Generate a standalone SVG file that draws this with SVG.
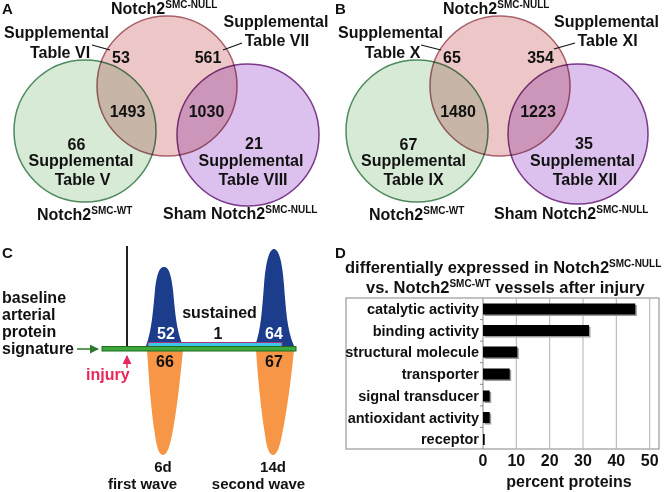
<svg xmlns="http://www.w3.org/2000/svg" width="666" height="492" viewBox="0 0 666 492">
<defs>
<style>
text{font-family:"Liberation Sans",Arial,sans-serif;font-weight:bold;fill:#111;}
.t{font-size:16px;}
.m{text-anchor:middle;}
.sup{font-size:10px;}
.lab{font-size:15px;}
.wave{font-size:15px;text-anchor:middle;}
.cat{font-size:14.5px;text-anchor:end;}
.pink{fill:#edc7c7;stroke:#a8606a;stroke-width:1.5;mix-blend-mode:multiply;}
.green{fill:#d6ead6;stroke:#4f8a5e;stroke-width:1.5;mix-blend-mode:multiply;}
.purple{fill:#dcc0ee;stroke:#7a3a88;stroke-width:1.5;mix-blend-mode:multiply;}
.lead{stroke:#111;stroke-width:1.2;fill:none;}
.grid{stroke:#b0b0b0;stroke-width:1;}
.bar{fill:#000;}
.shadow{fill:#9a9a9a;}
</style>
<marker id="ag" viewBox="0 0 10 10" refX="9" refY="5" markerWidth="6" markerHeight="6" orient="auto"><path d="M0,0 L10,5 L0,10 z" fill="#2a7a2a"/></marker>
<marker id="ar" viewBox="0 0 10 10" refX="9" refY="5" markerWidth="6" markerHeight="6" orient="auto"><path d="M0,0 L10,5 L0,10 z" fill="#e8285a"/></marker>
</defs>
<rect width="666" height="492" fill="#fff"/>

<!-- Panel A -->
<g id="panelA">
<text class="lab" x="2" y="14">A</text>
<g id="A-circles" style="isolation:isolate">
<circle id="A-green" class="green" cx="85" cy="131" r="71"/>
<circle id="A-pink" class="pink" cx="167" cy="86" r="70"/>
<circle id="A-purple" class="purple" cx="248" cy="135" r="71"/>
</g>
<g id="A-connectors">
<line class="lead" x1="92" y1="45" x2="110" y2="50"/>
<line class="lead" x1="223" y1="50" x2="242" y2="43"/>
</g>
<g id="A-labels">
<text class="t" x="111" y="14">Notch2<tspan class="sup" dy="-6">SMC-NULL</tspan></text>
<text class="t m" x="56.5" y="38">Supplemental</text>
<text class="t m" x="60" y="58">Table VI</text>
<text class="t m" x="121" y="63">53</text>
<text class="t m" x="208" y="63">561</text>
<text class="t m" x="276" y="27">Supplemental</text>
<text class="t m" x="277" y="46">Table VII</text>
<text class="t m" x="127.5" y="117">1493</text>
<text class="t m" x="206.5" y="117">1030</text>
<text class="t m" x="76.5" y="150">66</text>
<text class="t m" x="81" y="166">Supplemental</text>
<text class="t m" x="82.5" y="185">Table V</text>
<text class="t m" x="254" y="149">21</text>
<text class="t m" x="251" y="166">Supplemental</text>
<text class="t m" x="253" y="185">Table VIII</text>
<text class="t" x="37" y="220">Notch2<tspan class="sup" dy="-6">SMC-WT</tspan></text>
<text class="t" x="163" y="219">Sham Notch2<tspan class="sup" dy="-6">SMC-NULL</tspan></text>
</g>
</g>

<!-- Panel B -->
<g id="panelB">
<text class="lab" x="335" y="14">B</text>
<g id="B-circles" style="isolation:isolate">
<circle id="B-green" class="green" cx="417" cy="131" r="71"/>
<circle id="B-pink" class="pink" cx="500" cy="86" r="70"/>
<circle id="B-purple" class="purple" cx="578" cy="134" r="70"/>
</g>
<g id="B-connectors">
<line class="lead" x1="421" y1="45" x2="441" y2="50"/>
<line class="lead" x1="554" y1="49" x2="575" y2="43"/>
</g>
<g id="B-labels">
<text class="t" x="443" y="14">Notch2<tspan class="sup" dy="-6">SMC-NULL</tspan></text>
<text class="t m" x="390.5" y="38">Supplemental</text>
<text class="t m" x="392.5" y="58">Table X</text>
<text class="t m" x="452" y="63">65</text>
<text class="t m" x="540.5" y="63">354</text>
<text class="t m" x="606.5" y="27">Supplemental</text>
<text class="t m" x="607.5" y="46">Table XI</text>
<text class="t m" x="458" y="117">1480</text>
<text class="t m" x="538" y="117">1223</text>
<text class="t m" x="408.5" y="150">67</text>
<text class="t m" x="413.5" y="166">Supplemental</text>
<text class="t m" x="413.5" y="185">Table IX</text>
<text class="t m" x="584" y="149">35</text>
<text class="t m" x="582.5" y="166">Supplemental</text>
<text class="t m" x="585" y="185">Table XII</text>
<text class="t" x="369" y="220">Notch2<tspan class="sup" dy="-6">SMC-WT</tspan></text>
<text class="t" x="494" y="219">Sham Notch2<tspan class="sup" dy="-6">SMC-NULL</tspan></text>
</g>
</g>

<!-- Panel C -->
<g id="panelC">
<text class="lab" x="2" y="258">C</text>
<line x1="127" y1="246" x2="127" y2="349" stroke="#222" stroke-width="2"/>
<path id="peak1-up" d="M146,346 C152,330 153,310 155,290 C157,272 160,267 164,267 C168,267 171,272 173,290 C175,310 176,330 183,346 Z" fill="#1c3c8c"/>
<path id="peak2-up" d="M255,346 C261,330 262,310 264,285 C266,258 270,249 274,249 C278,249 282,258 284,285 C286,310 287,330 294,346 Z" fill="#1c3c8c"/>
<path id="peak1-down" d="M147,350 L183,350 C180,380 177,410 172,435 C169,450 166,455 163,455 C160,455 157,450 155,435 C151,410 149,380 147,350 Z" fill="#f79646"/>
<path id="peak2-down" d="M256,350 L294,350 C291,380 287,410 282,435 C279,450 276,455 273,455 C270,455 267,450 265,435 C261,410 258,380 256,350 Z" fill="#f79646"/>
<rect id="sustained-bar" x="148" y="342.5" width="134" height="4" fill="#3ec6e8" stroke="#b0307a" stroke-width="1"/>
<rect id="baseline-bar" x="102" y="346.5" width="194" height="4.5" fill="#3ca83c" stroke="#1f6b20" stroke-width="1"/>
<g id="C-connectors">
<line x1="77" y1="349" x2="98" y2="349" stroke="#2a7a2a" stroke-width="1.5" marker-end="url(#ag)"/>
<line x1="127" y1="368" x2="127" y2="356" stroke="#e8285a" stroke-width="1.5" marker-end="url(#ar)"/>
</g>
<g id="C-labels">
<text class="t" x="2" y="303">baseline</text>
<text class="t" x="2" y="320">arterial</text>
<text class="t" x="2" y="337">protein</text>
<text class="t" x="2" y="354">signature</text>
<text class="t" x="86" y="380" style="fill:#e8285a">injury</text>
<text class="t m" x="166" y="339" style="fill:#fff">52</text>
<text class="t m" x="274" y="339" style="fill:#fff">64</text>
<text class="t m" x="219.5" y="318">sustained</text>
<text class="t m" x="218" y="339">1</text>
<text class="t m" x="165" y="367">66</text>
<text class="t m" x="274" y="367">67</text>
<text class="wave" x="163" y="472">6d</text>
<text class="wave" x="142.5" y="489">first wave</text>
<text class="wave" x="273" y="472">14d</text>
<text class="wave" x="258.5" y="489">second wave</text>
</g>
</g>

<!-- Panel D -->
<g id="panelD">
<text class="lab" x="335" y="258">D</text>
<text x="345" y="273" style="font-size:16.5px">differentially expressed in Notch2<tspan class="sup" dy="-6">SMC-NULL</tspan></text>
<text x="366" y="293" style="font-size:16.5px">vs. Notch2<tspan class="sup" dy="-6">SMC-WT</tspan><tspan dy="6"> vessels after injury</tspan></text>
<rect x="346" y="298" width="313" height="151" fill="none" stroke="#999" stroke-width="1.2"/>
<g id="D-grid">
<line class="grid" x1="516.3" y1="298" x2="516.3" y2="449"/>
<line class="grid" x1="549.7" y1="298" x2="549.7" y2="449"/>
<line class="grid" x1="583" y1="298" x2="583" y2="449"/>
<line class="grid" x1="616.3" y1="298" x2="616.3" y2="449"/>
<line class="grid" x1="649.7" y1="298" x2="649.7" y2="449"/>
</g>
<g id="D-axis" stroke="#888" stroke-width="1">
<line x1="483" y1="298" x2="483" y2="449"/>
<line x1="480" y1="319.6" x2="483" y2="319.6"/>
<line x1="480" y1="341.1" x2="483" y2="341.1"/>
<line x1="480" y1="362.7" x2="483" y2="362.7"/>
<line x1="480" y1="384.3" x2="483" y2="384.3"/>
<line x1="480" y1="405.9" x2="483" y2="405.9"/>
<line x1="480" y1="427.4" x2="483" y2="427.4"/>
</g>
<g id="D-bars">
<rect class="shadow" x="484.5" y="305" width="152.3" height="11"/>
<rect class="bar" x="483" y="303.5" width="152.3" height="11"/>
<rect class="shadow" x="484.5" y="326.5" width="106" height="11"/>
<rect class="bar" x="483" y="325" width="106" height="11"/>
<rect class="shadow" x="484.5" y="348" width="34.3" height="11"/>
<rect class="bar" x="483" y="346.5" width="34.3" height="11"/>
<rect class="shadow" x="484.5" y="370" width="26.7" height="11"/>
<rect class="bar" x="483" y="368.5" width="26.7" height="11"/>
<rect class="shadow" x="484.5" y="392" width="6.7" height="11"/>
<rect class="bar" x="483" y="390.5" width="6.7" height="11"/>
<rect class="shadow" x="484.5" y="413.5" width="6.7" height="11"/>
<rect class="bar" x="483" y="412" width="6.7" height="11"/>
<rect class="bar" x="483" y="434" width="1.7" height="11"/>
</g>
<g id="D-labels">
<text class="cat" x="479" y="314">catalytic activity</text>
<text class="cat" x="479" y="336">binding activity</text>
<text class="cat" x="479" y="357">structural molecule</text>
<text class="cat" x="479" y="379">transporter</text>
<text class="cat" x="479" y="401">signal transducer</text>
<text class="cat" x="479" y="423">antioxidant activity</text>
<text class="cat" x="479" y="444">receptor</text>
<text class="t m" x="483" y="466">0</text>
<text class="t m" x="516.3" y="466">10</text>
<text class="t m" x="549.7" y="466">20</text>
<text class="t m" x="583" y="466">30</text>
<text class="t m" x="616.3" y="466">40</text>
<text class="t m" x="649.7" y="466">50</text>
<text class="t m" x="569" y="487">percent proteins</text>
</g>
</g>
</svg>
